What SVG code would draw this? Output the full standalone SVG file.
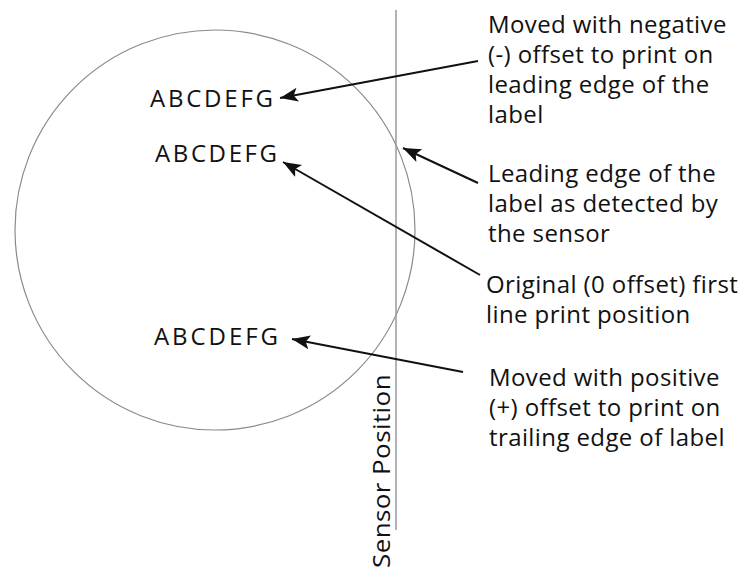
<svg xmlns="http://www.w3.org/2000/svg" width="754" height="577" viewBox="0 0 754 577">
<style>
.t{font-family:"Open Sans","Liberation Sans",sans-serif;font-size:24px;fill:#111;letter-spacing:0.4px}
.abc{font-family:"Open Sans","Liberation Sans",sans-serif;font-size:24px;fill:#111}
.conn{stroke:#111;stroke-width:2;fill:none;marker-end:url(#ah)}
</style>
<defs>
<marker id="ah" markerUnits="userSpaceOnUse" markerWidth="20" markerHeight="16" refX="18" refY="7" orient="auto">
<path d="M0,0 L18,7 L0,14 L4,7 z" fill="#111"/>
</marker>
</defs>
<rect width="754" height="577" fill="#fff"/>
<g id="label-circle">
<circle cx="215" cy="230" r="200" fill="none" stroke="#8a8a8a" stroke-width="1.2"/>
</g>
<g id="sensor">
<line x1="396" y1="10" x2="396" y2="530" stroke="#9a9a9a" stroke-width="1.5"/>
<text class="t" transform="translate(390,568) rotate(-90)" font-size="28" textLength="194" lengthAdjust="spacingAndGlyphs">Sensor Position</text>
</g>
<g id="print-neg"><text class="abc" x="150" y="107" textLength="123" lengthAdjust="spacing">ABCDEFG</text></g>
<g id="print-orig"><text class="abc" x="155" y="162" textLength="122" lengthAdjust="spacing">ABCDEFG</text></g>
<g id="print-pos"><text class="abc" x="154" y="345" textLength="124" lengthAdjust="spacing">ABCDEFG</text></g>
<g id="note-neg"><text class="t">
<tspan x="488" y="33">Moved with negative</tspan>
<tspan x="488" y="63">(-) offset to print on</tspan>
<tspan x="488" y="93">leading edge of the</tspan>
<tspan x="488" y="123">label</tspan></text></g>
<g id="note-edge"><text class="t">
<tspan x="488" y="182">Leading edge of the</tspan>
<tspan x="488" y="212">label as detected by</tspan>
<tspan x="488" y="242">the sensor</tspan></text></g>
<g id="note-orig"><text class="t">
<tspan x="486" y="293">Original (0 offset) first</tspan>
<tspan x="486" y="323">line print position</tspan></text></g>
<g id="note-pos"><text class="t">
<tspan x="489" y="386">Moved with positive</tspan>
<tspan x="489" y="416">(+) offset to print on</tspan>
<tspan x="489" y="446">trailing edge of label</tspan></text></g>
<g id="connectors">
<line class="conn" x1="478" y1="61" x2="280" y2="98"/>
<line class="conn" x1="478" y1="183" x2="403" y2="148"/>
<line class="conn" x1="480" y1="275" x2="283" y2="162"/>
<line class="conn" x1="463" y1="372" x2="292" y2="339"/>
</g>
</svg>
